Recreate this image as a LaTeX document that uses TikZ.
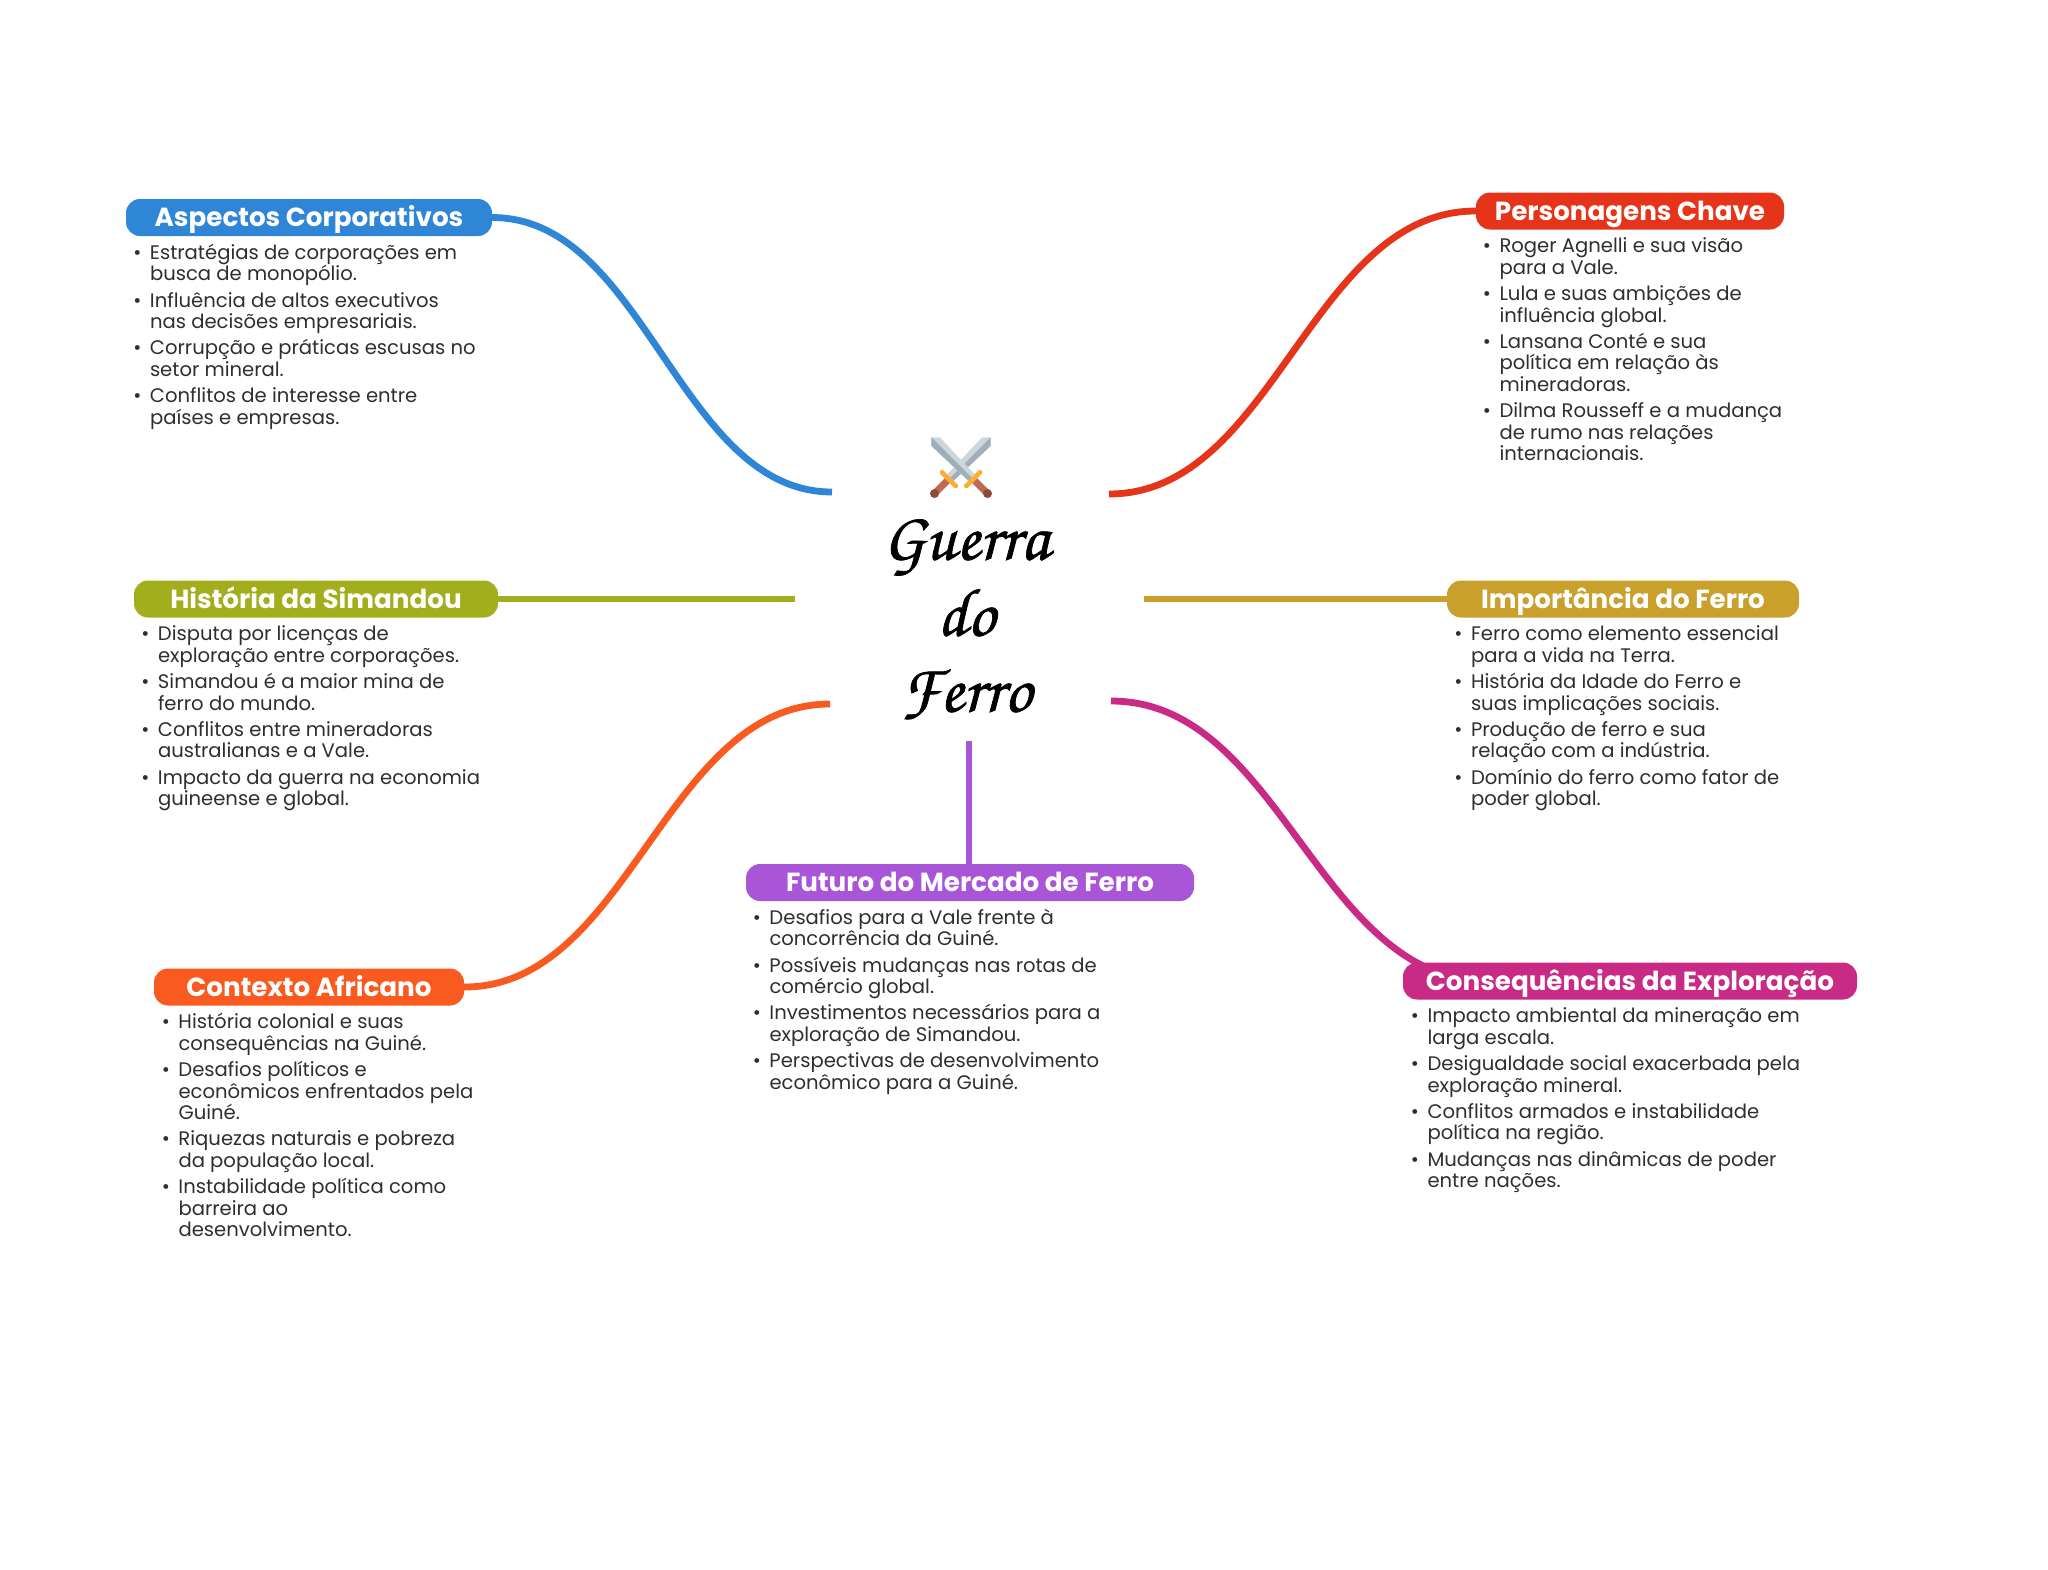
\documentclass[tikz,border=0pt]{standalone}
\usepackage{fontspec}
\setmainfont{Poppins}
\usetikzlibrary{positioning,backgrounds}

\definecolor{azulA}{HTML}{2F86D6}
\definecolor{vermelhoP}{HTML}{E5341A}
\definecolor{verdeH}{HTML}{A3AE1C}
\definecolor{ouroI}{HTML}{C9A02C}
\definecolor{laranjaC}{HTML}{F95A1F}
\definecolor{roxoF}{HTML}{A855D8}
\definecolor{magentaE}{HTML}{C92A85}
\definecolor{textoL}{HTML}{2E2E2E}
\definecolor{laminaC}{HTML}{CCD6DD}
\definecolor{laminaE}{HTML}{A0AEBA}
\definecolor{cabo}{HTML}{C1694F}
\definecolor{pomo}{HTML}{8A4B38}
\definecolor{guarda}{HTML}{FFAC33}

\newcommand{\bl}{\leavevmode\rule{0pt}{16pt}\llap{\textbullet\hspace{8.5pt}}}

\tikzset{
	pill/.style={rounded corners=14pt,text=white,inner sep=0pt,minimum height=37pt,text height=22pt,text depth=4pt,font=\fontsize{26.2}{30}\selectfont\bfseries},
	lista/.style={inner sep=0pt,align=left,text=textoL,font=\fontsize{19.6}{21.5}\selectfont},
	ramo/.style={line width=6.8pt,line cap=butt},
	titulo/.style={inner sep=0pt,align=center,font=\fontsize{68}{76}\fontencoding{T1}\fontfamily{pzc}\selectfont}
}

\begin{document}
\begin{tikzpicture}[x=1pt,y=-1pt]
	\useasboundingbox (0,0) rectangle (2048,1569);

	\node[pill,fill=azulA,minimum width=366pt] (aspectos) at (309,217.5) {Aspectos Corporativos};
	\node[pill,fill=vermelhoP,minimum width=308pt] (personagens) at (1630,211) {Personagens Chave};
	\node[pill,fill=verdeH,minimum width=364pt] (historia) at (316,599) {História da Simandou};
	\node[pill,fill=ouroI,minimum width=352pt] (importancia) at (1623,599) {Importância do Ferro};
	\node[pill,fill=roxoF,minimum width=448pt] (futuro) at (970,882.5) {Futuro do Mercado de Ferro};
	\node[pill,fill=laranjaC,minimum width=310pt] (contexto) at (309,987) {Contexto Africano};
	\node[pill,fill=magentaE,minimum width=454pt] (consequencias) at (1630,981) {Consequências da Exploração};

	\node[lista,below right=7pt and 24pt of aspectos.south west] (aspectosL) {\bl Estratégias de corporações em\\busca de monopólio.\\[4.7pt]
		\bl Influência de altos executivos\\nas decisões empresariais.\\[4.7pt]
		\bl Corrupção e práticas escusas no\\setor mineral.\\[4.7pt]
		\bl Conflitos de interesse entre\\países e empresas.};
	\node[lista,below right=7pt and 23.5pt of personagens.south west] (personagensL) {\bl Roger Agnelli e sua visão\\para a Vale.\\[4.7pt]
		\bl Lula e suas ambições de\\influência global.\\[4.7pt]
		\bl Lansana Conté e sua\\política em relação às\\mineradoras.\\[4.7pt]
		\bl Dilma Rousseff e a mudança\\de rumo nas relações\\internacionais.};
	\node[lista,below right=7pt and 24pt of historia.south west] (historiaL) {\bl Disputa por licenças de\\exploração entre corporações.\\[4.7pt]
		\bl Simandou é a maior mina de\\ferro do mundo.\\[4.7pt]
		\bl Conflitos entre mineradoras\\australianas e a Vale.\\[4.7pt]
		\bl Impacto da guerra na economia\\guineense e global.};
	\node[lista,below right=7pt and 24pt of importancia.south west] (importanciaL) {\bl Ferro como elemento essencial\\para a vida na Terra.\\[4.7pt]
		\bl História da Idade do Ferro e\\suas implicações sociais.\\[4.7pt]
		\bl Produção de ferro e sua\\relação com a indústria.\\[4.7pt]
		\bl Domínio do ferro como fator de\\poder global.};
	\node[lista,below right=7pt and 23.5pt of futuro.south west] (futuroL) {\bl Desafios para a Vale frente à\\concorrência da Guiné.\\[4.7pt]
		\bl Possíveis mudanças nas rotas de\\comércio global.\\[4.7pt]
		\bl Investimentos necessários para a\\exploração de Simandou.\\[4.7pt]
		\bl Perspectivas de desenvolvimento\\econômico para a Guiné.};
	\node[lista,below right=7pt and 24.5pt of contexto.south west] (contextoL) {\bl História colonial e suas\\consequências na Guiné.\\[4.7pt]
		\bl Desafios políticos e\\econômicos enfrentados pela\\Guiné.\\[4.7pt]
		\bl Riquezas naturais e pobreza\\da população local.\\[4.7pt]
		\bl Instabilidade política como\\barreira ao\\desenvolvimento.};
	\node[lista,below right=7pt and 24.5pt of consequencias.south west] (consequenciasL) {\bl Impacto ambiental da mineração em\\larga escala.\\[4.7pt]
		\bl Desigualdade social exacerbada pela\\exploração mineral.\\[4.7pt]
		\bl Conflitos armados e instabilidade\\política na região.\\[4.7pt]
		\bl Mudanças nas dinâmicas de poder\\entre nações.};

	\node[titulo] (centro) at (966,619) {\special{pdf:code 2 Tr 0.7 w}Guerra\\do\\Ferro\special{pdf:code 0 Tr}};

	% espadas
	\foreach \lado in {-1,1}{
		\begin{scope}[shift={(961,467)},xscale=\lado,rotate=-45]
			\fill[laminaC] (-42,0) -- (-36,-6) -- (15,-4.5) -- (15,4.5) -- (-36,6) -- cycle;
			\fill[laminaE] (-42,0) -- (-36,6) -- (15,4.5) -- (15,0) -- cycle;
			\fill[cabo] (18,-3.5) rectangle (36,3.5);
			\fill[pomo] (37.5,0) circle (4.5);
			\fill[guarda,rounded corners=1.5pt] (15,-12) rectangle (19.5,12);
		\end{scope}
	}

	\coordinate (cA) at (832,492);
	\coordinate (cP) at (1109,494);
	\coordinate (cH) at (795,599);
	\coordinate (cI) at (1144,599);
	\coordinate (cF) at (969,741);
	\coordinate (cC) at (830,704);
	\coordinate (cE) at (1111,701);

	\begin{scope}[on background layer]
		\draw[ramo,azulA] (aspectos.east) .. controls +(153,0) and +(-153,0) .. (cA);
		\draw[ramo,vermelhoP] (personagens.west) .. controls +(-165,0) and +(165,0) .. (cP);
		\draw[ramo,verdeH] (historia.east) -- (cH);
		\draw[ramo,ouroI] (importancia.west) -- (cI);
		\draw[ramo,roxoF] (futuro.north -| cF) -- (cF);
		\draw[ramo,laranjaC] (contexto.east) .. controls +(165,0) and +(-165,0) .. (cC);
		\draw[ramo,magentaE] (consequencias.west) ++(85,0) .. controls +(-170,0) and +(170,0) .. (cE);
	\end{scope}
\end{tikzpicture}
\end{document}
